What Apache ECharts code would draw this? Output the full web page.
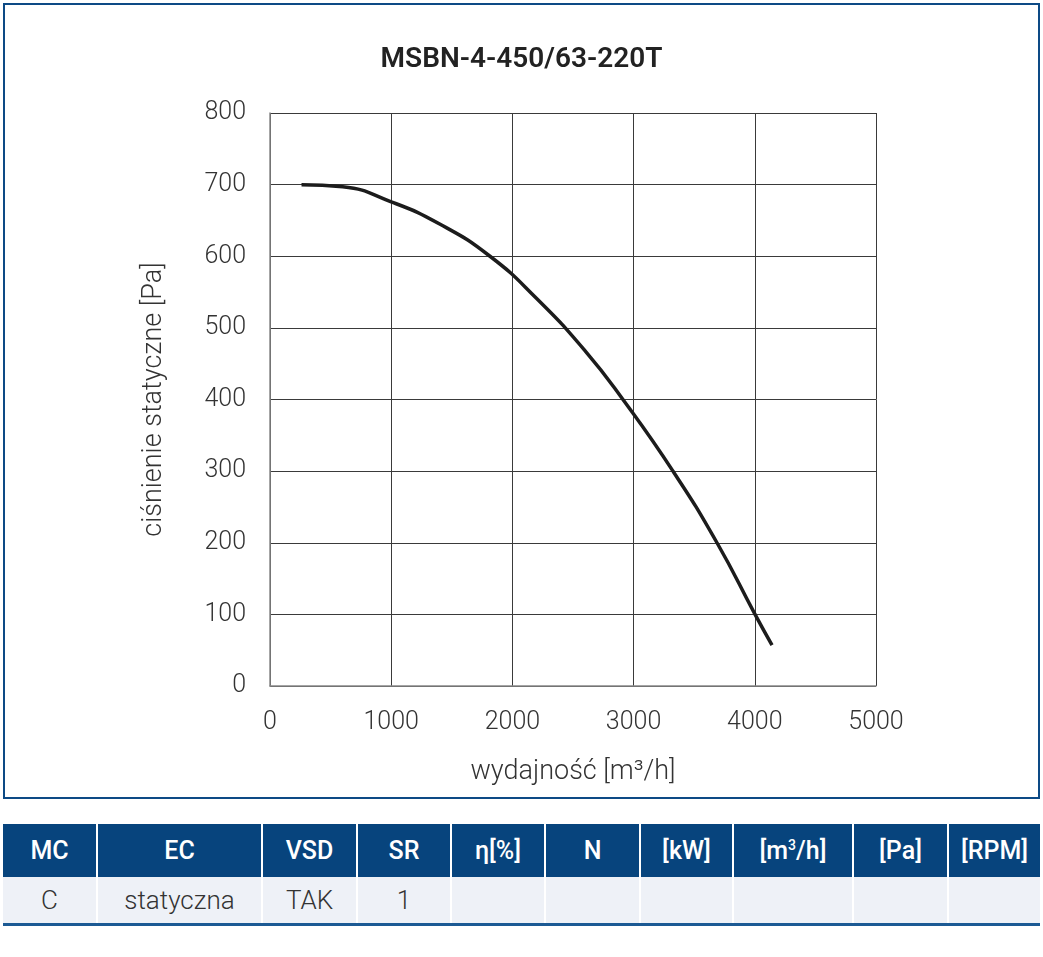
<!DOCTYPE html>
<html>
<head>
<meta charset="utf-8">
<script src="https://cdn.jsdelivr.net/npm/echarts@6/dist/echarts.min.js"></script>
<style>
body{margin:0;background:#fff;font-family:Roboto,"Noto Sans",sans-serif;}
#box{position:absolute;left:3px;top:3px;width:1033px;height:792px;border:2px solid #0d4a85;}
#chart{position:absolute;left:0;top:0;width:1043px;height:800px;}
table.dane{position:absolute;left:3px;top:824px;width:1037px;border-collapse:collapse;table-layout:fixed;}
table.dane th{background:#07447d;color:#fff;font-weight:500;font-size:25px;height:53px;padding:0;border-left:2px solid #fff;text-align:center;}
table.dane th:first-child{border-left:none;}
table.dane td{background:#eef1f7;color:#333;font-weight:300;font-size:26px;height:46px;padding:0;border-left:2px solid #fff;text-align:center;border-bottom:3px solid #1c5a94;}
table.dane td:first-child{border-left:none;}
</style>
</head>
<body>
<div id="box"></div>
<div id="chart"></div>
<table class="dane">
<colgroup>
<col style="width:94px"><col style="width:165px"><col style="width:95px"><col style="width:94px"><col style="width:94px">
<col style="width:95px"><col style="width:93px"><col style="width:120px"><col style="width:95px"><col style="width:92px">
</colgroup>
<tr><th>MC</th><th>EC</th><th>VSD</th><th>SR</th><th>η[%]</th><th>N</th><th>[kW]</th><th>[m<sup style="font-size:14px">3</sup>/h]</th><th>[Pa]</th><th>[RPM]</th></tr>
<tr><td>C</td><td>statyczna</td><td>TAK</td><td>1</td><td></td><td></td><td></td><td></td><td></td><td></td></tr>
</table>
<script>
// dane krzywej
var tytul = 'MSBN-4-450/63-220T';
var wydajnosc = [260, 600, 1000, 1400, 1815, 2200, 2600, 2912, 3325, 3688, 4002, 4142];
var cisnienie = [700, 697, 676, 645, 600, 541, 468, 400, 300, 200, 100, 57];
var xTicks = [0, 1000, 2000, 3000, 4000, 5000];
var yTicks = [0, 100, 200, 300, 400, 500, 600, 700, 800];

var punkty = [];
for (var i = 0; i < wydajnosc.length; i++) {
    punkty.push([wydajnosc[i], cisnienie[i]]);
}

var fnt = 'Roboto';
var opcje = {
    animation: false,
    title: {
        text: tytul,
        left: 'center',
        top: 41,
        textStyle: {fontFamily: fnt, fontWeight: 600, fontSize: 28, color: '#222'}
    },
    grid: {left: 270, right: 167, top: 113, bottom: 114},
    xAxis: {
        type: 'value',
        min: xTicks[0],
        max: xTicks[xTicks.length - 1],
        interval: 1000,
        name: 'wydajność [m³/h]',
        nameLocation: 'middle',
        nameGap: 73,
        nameTextStyle: {fontFamily: fnt, fontWeight: 300, fontSize: 27, color: '#333'},
        axisLine: {show: true, lineStyle: {color: '#888', width: 1.5}},
        axisTick: {show: false},
        axisLabel: {fontFamily: fnt, fontWeight: 300, fontSize: 25, color: '#333', margin: 24,
            formatter: function (v) { return String(v); }},
        splitLine: {show: true, lineStyle: {color: '#3a3a3a', width: 1}}
    },
    yAxis: {
        type: 'value',
        min: yTicks[0],
        max: yTicks[yTicks.length - 1],
        interval: 100,
        name: 'ciśnienie statyczne [Pa]',
        nameLocation: 'middle',
        nameGap: 102,
        nameRotate: 90,
        nameTextStyle: {fontFamily: fnt, fontWeight: 300, fontSize: 27, color: '#333'},
        axisLine: {show: true, lineStyle: {color: '#888', width: 1.5}},
        axisTick: {show: false},
        axisLabel: {fontFamily: fnt, fontWeight: 300, fontSize: 25, color: '#333', margin: 24,
            formatter: function (v) { return String(v); }},
        splitLine: {show: true, lineStyle: {color: '#3a3a3a', width: 1}}
    },
    series: [{
        type: 'line',
        data: punkty,
        smooth: 0.5,
        symbol: 'none',
        lineStyle: {color: '#1c1c1c', width: 3.5}
    }]
};

var wykres = echarts.init(document.getElementById('chart'));
wykres.setOption(opcje);
</script>
</body>
</html>
